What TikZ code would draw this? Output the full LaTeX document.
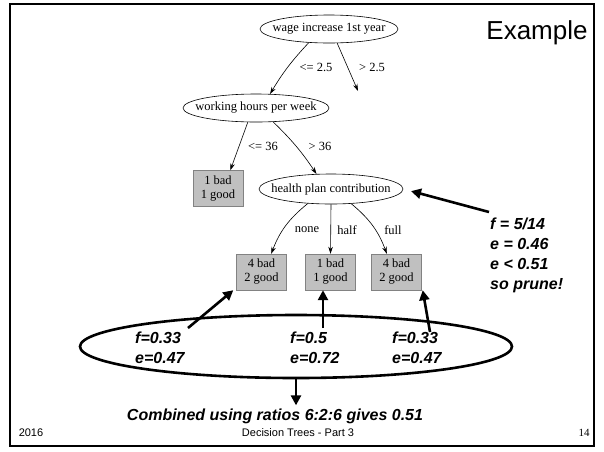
\documentclass[tikz,border=0pt]{standalone}
\usepackage{fontspec}
\setmainfont{Liberation Serif}
\setsansfont{Liberation Sans}
\usetikzlibrary{shapes.geometric,arrows.meta}
\definecolor{leaffill}{RGB}{192,192,192}
\definecolor{leafdraw}{RGB}{130,130,130}
\begin{document}
\begin{tikzpicture}[x=1pt,y=-1pt,
  ell/.style={ellipse,draw,line width=0.6pt,minimum width=#1,minimum height=28,inner sep=0pt,font=\fontsize{12.5}{13}\selectfont},
  leaf/.style={rectangle,draw=leafdraw,fill=leaffill,minimum width=50,minimum height=36,inner sep=0pt,align=center,font=\fontsize{12.5}{14}\selectfont},
  thin/.style={line width=0.6pt,-{Stealth[length=7pt,width=4.5pt]}},
  thick/.style={line width=2.6pt,-{Triangle[length=10pt,width=10pt]}},
  lbl/.style={font=\fontsize{12.5}{13}\selectfont,inner sep=0pt},
  note/.style={font=\sffamily\bfseries\itshape\fontsize{16}{20}\selectfont,inner sep=0pt,align=left},
  foot/.style={font=\sffamily\fontsize{11}{12}\selectfont,inner sep=0pt}]
\useasboundingbox (0,0) rectangle (604,451);
\fill[white] (0,0) rectangle (604,451);
\draw[line width=2pt] (10,4) rectangle (594,446);

\node[font=\sffamily\fontsize{26}{28}\selectfont,inner sep=0pt] (title) at (537,33) {Example};

\node[ell=138] (wage) at (329,29) {\makebox[0pt]{wage increase 1st year}};
\node[ell=146] (work) at (256,108) {\makebox[0pt]{working hours per week}};
\node[ell=144,minimum height=30] (health) at (331,189) {\makebox[0pt]{health plan contribution}};
\coordinate (gt25) at (358,91);

\node[leaf] (l1) at (218,188.5) {1 bad\\1 good};
\node[leaf] (l2) at (261.5,272) {4 bad\\2 good};
\node[leaf] (l3) at (330.5,272) {1 bad\\1 good};
\node[leaf] (l4) at (396.5,272) {4 bad\\2 good};

\draw[thin] (wage.214) to[bend right=6] (work.45);
\draw[thin] (wage.300) -- (gt25);
\node[lbl] at (316,67) {<= 2.5};
\node[lbl] at (372,67) {> 2.5};

\draw[thin] (work.240) -- (l1.56);
\draw[thin] (work.321) to[bend left=6] (health.134);
\node[lbl] at (263,146) {<= 36};
\node[lbl] at (320,146) {> 36};

\draw[thin] (health.212) to[bend right=15] (l2.62);
\draw[thin] (health.south) -- (l3.north);
\draw[thin] (health.324) to[bend left=15] (l4.118);
\node[lbl] at (307,230) {none};
\node[lbl] at (347,230) {half};
\node[lbl] at (393,230) {full};

\coordinate (nt) at (489,212);
\draw[thick,shorten >=8pt] (nt) -- (health.east);
\node[note,anchor=north west] (note) at (490,218) {f = 5/14\\e = 0.46\\e < 0.51\\so prune!};

\node[draw,ellipse,line width=2.6pt,minimum width=432,minimum height=63,inner sep=0pt] (big) at (296,346.5) {};
\node[note,anchor=west] (v1) at (135,348) {f=0.33\\e=0.47};
\node[note,anchor=west] (v2) at (290,348) {f=0.5\\e=0.72};
\node[note,anchor=west] (v3) at (392,348) {f=0.33\\e=0.47};
\coordinate (t1) at (188,328);
\coordinate (t2) at (323,328);
\coordinate (t3) at (430,332);
\draw[thick] (t1) -- ([xshift=-3pt]l2.south west);
\draw[thick] (t2) -- (t2 |- l3.south);
\draw[thick] (t3) -- ([xshift=1pt]l4.south east);

\node[note] (comb) at (275,416) {Combined using ratios 6:2:6 gives 0.51};
\draw[thick] (big.south) -- ([yshift=3pt]big.south |- comb.north);

\node[foot] at (31,433) {2016};
\node[foot] at (298,433) {Decision Trees - Part 3};
\node[font=\fontsize{11}{12}\selectfont,inner sep=0pt] at (584,433) {14};
\end{tikzpicture}
\end{document}
